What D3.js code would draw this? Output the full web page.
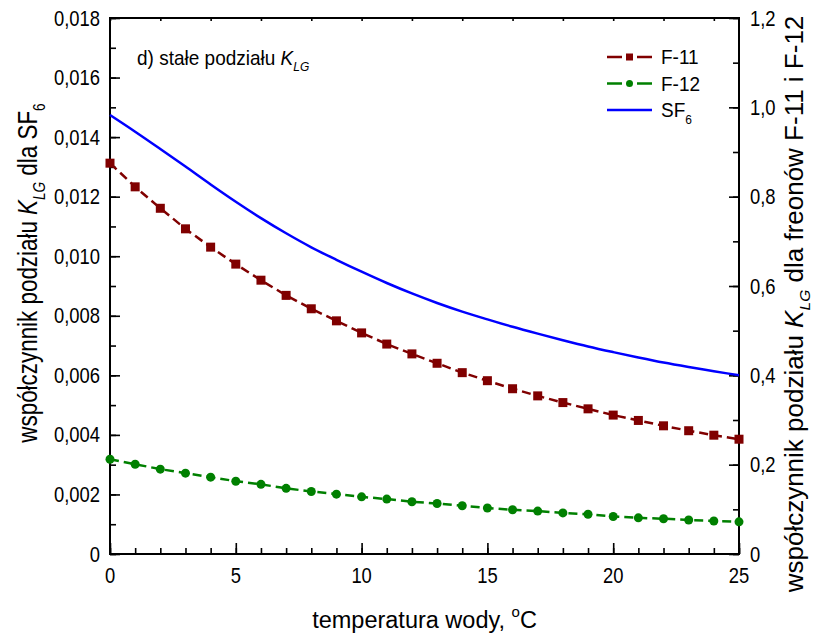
<!DOCTYPE html>
<meta charset="utf-8">
<script src="https://d3js.org/d3.v7.min.js"></script>
<style>
body { margin: 0; background: #fff; }
text { font-family: "Liberation Sans", Arial, sans-serif; fill: #000; }
.frame { fill: none; stroke: #000; stroke-width: 2px; }
.tick line { stroke: #000; stroke-width: 1.6px; }
</style>
<body>
<script>

let width = 814,
    height = 637;
let margin = {top: 18, right: 75, bottom: 83, left: 110};

// temperatura wody, oC
let temps = [0, 1, 2, 3, 4, 5, 6, 7, 8, 9, 10, 11, 12, 13, 14, 15, 16, 17, 18, 19, 20, 21, 22, 23, 24, 25];
// K_LG for freons (right axis)
let f11 = [0.875, 0.822, 0.774, 0.728, 0.687, 0.649, 0.613, 0.579, 0.549, 0.522, 0.495, 0.470, 0.448,
           0.427, 0.406, 0.388, 0.370, 0.354, 0.339, 0.325, 0.311, 0.299, 0.287, 0.276, 0.266, 0.257];
let f12 = [0.212, 0.201, 0.190, 0.181, 0.172, 0.163, 0.156, 0.147, 0.140, 0.134, 0.128, 0.123, 0.117,
           0.113, 0.108, 0.103, 0.099, 0.096, 0.092, 0.089, 0.084, 0.081, 0.079, 0.076, 0.074, 0.072];
// K_LG for SF6 (left axis)
let sf6 = [0.01474, 0.01418, 0.01360, 0.01301, 0.01241, 0.01183, 0.01128, 0.01077, 0.01030, 0.00988,
           0.00948, 0.00910, 0.00875, 0.00843, 0.00814, 0.00788, 0.00763, 0.00740, 0.00718, 0.00697,
           0.00678, 0.00660, 0.00643, 0.00628, 0.00614, 0.00600];

let xTicks = [0, 5, 10, 15, 20, 25];
let leftTicks = [0, 0.002, 0.004, 0.006, 0.008, 0.010, 0.012, 0.014, 0.016, 0.018];
let rightTicks = [0, 0.2, 0.4, 0.6, 0.8, 1.0, 1.2];

let svg = d3.select("body").append("svg")
    .attr("width", width)
    .attr("height", height);

let x = d3.scaleLinear().domain([0, 25]).range([margin.left, width - margin.right]);
let yL = d3.scaleLinear().domain([0, 0.018]).range([height - margin.bottom, margin.top]);
let yR = d3.scaleLinear().domain([0, 1.2]).range([height - margin.bottom, margin.top]);

let comma = f => s => s === 0 ? "0" : d3.format(f)(s).replace(".", ",");

// minor ticks (no labels)
function minor(axis, n) { return axis.ticks(n).tickFormat("").tickSizeOuter(0); }

let x0 = margin.left, x1 = width - margin.right, y0 = height - margin.bottom, y1 = margin.top;

svg.append("g").attr("transform", `translate(0,${y0})`)
    .call(minor(d3.axisTop(x).tickSizeInner(6), 25));
svg.append("g").attr("transform", `translate(0,${y0})`)
    .call(d3.axisTop(x).tickValues(xTicks).tickSizeInner(11).tickSizeOuter(0).tickFormat(""));
svg.append("g").attr("transform", `translate(0,${y1})`)
    .call(d3.axisBottom(x).ticks(10).tickSizeInner(3).tickSizeOuter(0).tickFormat(""));

svg.append("g").attr("transform", `translate(${x0},0)`)
    .call(minor(d3.axisRight(yL).tickSizeInner(6), 18));
svg.append("g").attr("transform", `translate(${x0},0)`)
    .call(d3.axisRight(yL).tickValues(leftTicks).tickSizeInner(10).tickSizeOuter(0).tickFormat(""));

svg.append("g").attr("transform", `translate(${x1},0)`)
    .call(minor(d3.axisLeft(yR).tickSizeInner(6), 12));
svg.append("g").attr("transform", `translate(${x1},0)`)
    .call(d3.axisLeft(yR).tickValues(rightTicks).tickSizeInner(10).tickSizeOuter(0).tickFormat(""));

svg.selectAll(".domain").remove();

svg.append("rect").attr("class", "frame")
    .attr("x", x0).attr("y", y1).attr("width", x1 - x0).attr("height", y0 - y1);

// tick labels, a little taller than wide like the original
let sx = 0.92, sy = 1.1;
svg.selectAll(".xl").data(xTicks).enter().append("text")
    .attr("transform", d => `translate(${x(d)},${y0 + 29}) scale(${sx},${sy})`)
    .attr("text-anchor", "middle").style("font-size", "20px")
    .text(d => d);
svg.selectAll(".yl").data(leftTicks).enter().append("text")
    .attr("transform", d => `translate(${x0 - 10},${yL(d) + 7.5}) scale(${sx},${sy})`)
    .attr("text-anchor", "end").style("font-size", "20px")
    .text(comma(".3f"));
svg.selectAll(".yr").data(rightTicks).enter().append("text")
    .attr("transform", d => `translate(${x1 + 11},${yR(d) + 7.5}) scale(${sx},${sy})`)
    .style("font-size", "20px")
    .text(comma(".1f"));

// series
let rows = temps.map((t, i) => ({t: t, f11: f11[i], f12: f12[i], sf6: sf6[i]}));

svg.append("path").datum(rows)
    .attr("fill", "none").attr("stroke", "#0000ff").attr("stroke-width", 2.5)
    .attr("d", d3.line().curve(d3.curveMonotoneX).x(d => x(d.t)).y(d => yL(d.sf6)));

svg.append("path").datum(rows)
    .attr("fill", "none").attr("stroke", "#800000").attr("stroke-width", 2.5)
    .attr("stroke-dasharray", "9,5")
    .attr("d", d3.line().x(d => x(d.t)).y(d => yR(d.f11)));
svg.selectAll(".sq").data(rows).enter().append("rect")
    .attr("x", d => x(d.t) - 4.5).attr("y", d => yR(d.f11) - 4.5)
    .attr("width", 9).attr("height", 9).attr("fill", "#800000");

svg.append("path").datum(rows)
    .attr("fill", "none").attr("stroke", "#008000").attr("stroke-width", 2.5)
    .attr("stroke-dasharray", "9,5")
    .attr("d", d3.line().x(d => x(d.t)).y(d => yR(d.f12)));
svg.selectAll(".dot").data(rows).enter().append("circle")
    .attr("cx", d => x(d.t)).attr("cy", d => yR(d.f12))
    .attr("r", 4.5).attr("fill", "#008000");

// legend
let legend = [
  {name: "F-11", color: "#800000", mark: "rect"},
  {name: "F-12", color: "#008000", mark: "circle"},
  {name: "SF", sub: "6", color: "#0000ff", mark: null}
];
let lg = svg.selectAll(".lg").data(legend).enter().append("g")
    .attr("transform", (d, i) => `translate(607,${57 + i * 26.5})`);
lg.append("line").attr("x1", 0).attr("x2", 45)
    .attr("stroke", d => d.color).attr("stroke-width", 2.5)
    .attr("stroke-dasharray", d => d.mark ? "15,7,1,7,15" : null);
lg.filter(d => d.mark === "rect").append("rect")
    .attr("x", -3.5 + 22.5).attr("y", -3.5).attr("width", 7).attr("height", 7).attr("fill", d => d.color);
lg.filter(d => d.mark === "circle").append("circle")
    .attr("cx", 22.5).attr("r", 3.5).attr("fill", d => d.color);
let lt = lg.append("text").attr("transform", `translate(54,7) scale(1,${sy})`)
    .style("font-size", "19px");
lt.append("tspan").text(d => d.name);
lt.filter(d => d.sub).append("tspan").attr("dy", 6).style("font-size", "12px").text(d => d.sub);

// title inside the plot
let title = svg.append("text").attr("transform", `translate(137,65) scale(1,${sy})`)
    .style("font-size", "19px");
title.append("tspan").text("d) stałe podziału ");
title.append("tspan").style("font-style", "italic").text("K");
title.append("tspan").style("font-style", "italic").style("font-size", "12px").attr("dy", 5).text("LG");

// axis titles
let xl = svg.append("text").attr("transform", `translate(${(x0 + x1) / 2},628)`)
    .attr("text-anchor", "middle").style("font-size", "23.5px");
xl.append("tspan").text("temperatura wody, ");
xl.append("tspan").attr("dy", -11).style("font-size", "15px").text("o");
xl.append("tspan").attr("dy", 11).text("C");

// condensed lettering, as in the original
let ylL = svg.append("text").attr("transform", "translate(37,273) rotate(-90) scale(0.8,1)")
    .attr("text-anchor", "middle").style("font-size", "28px");
ylL.append("tspan").text("współczynnik podziału ");
ylL.append("tspan").style("font-style", "italic").text("K");
ylL.append("tspan").style("font-style", "italic").style("font-size", "17px").attr("dy", 8).text("LG");
ylL.append("tspan").attr("dy", -8).text(" dla SF");
ylL.append("tspan").style("font-size", "17px").attr("dy", 8).text("6");

let ylR = svg.append("text").attr("transform", "translate(803,304) rotate(-90) scale(1.04,1)")
    .attr("text-anchor", "middle").style("font-size", "25px");
ylR.append("tspan").text("współczynnik podziału ");
ylR.append("tspan").style("font-style", "italic").text("K");
ylR.append("tspan").style("font-style", "italic").style("font-size", "15px").attr("dy", 7).text("LG");
ylR.append("tspan").attr("dy", -7).text(" dla freonów F-11 i F-12");

</script>
